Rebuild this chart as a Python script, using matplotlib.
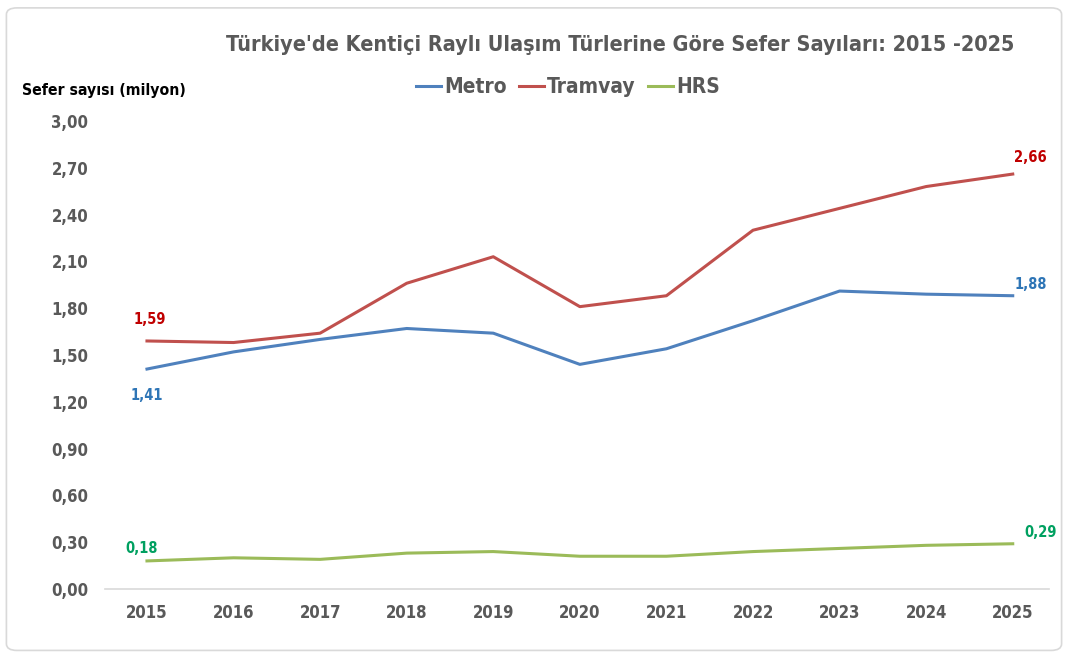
import matplotlib
matplotlib.use("Agg")
import matplotlib.pyplot as plt
from matplotlib.patches import FancyBboxPatch
from matplotlib import font_manager as fm

years = [2015, 2016, 2017, 2018, 2019, 2020, 2021, 2022, 2023, 2024, 2025]
metro = [1.41, 1.52, 1.60, 1.67, 1.64, 1.44, 1.54, 1.72, 1.91, 1.89, 1.88]
tramvay = [1.59, 1.58, 1.64, 1.96, 2.13, 1.81, 1.88, 2.30, 2.44, 2.58, 2.66]
hrs = [0.18, 0.20, 0.19, 0.23, 0.24, 0.21, 0.21, 0.24, 0.26, 0.28, 0.29]
yticks = [0.0, 0.3, 0.6, 0.9, 1.2, 1.5, 1.8, 2.1, 2.4, 2.7, 3.0]

names = {f.name for f in fm.fontManager.ttflist}
FONT = "Liberation Sans Narrow" if "Liberation Sans Narrow" in names else "DejaVu Sans"
STRETCH = "normal" if FONT == "Liberation Sans Narrow" else "condensed"
plt.rcParams["font.family"] = [FONT, "DejaVu Sans"]
plt.rcParams["font.stretch"] = STRETCH

GRAY = "#595959"
C_METRO, C_TRAM, C_HRS = "#4F81BD", "#C0504D", "#9BBB59"

fig = plt.figure(figsize=(10.68, 6.57), dpi=100)
fig.patch.set_facecolor("white")
fig.patches.append(FancyBboxPatch((0.006, 0.01), 0.988, 0.978, boxstyle="round,pad=0,rounding_size=0.01",
                                  transform=fig.transFigure, fill=False, ec="#D9D9D9", lw=1.2))

ax = fig.add_axes([0.0983, 0.1035, 0.884, 0.7123])
l1, = ax.plot(years, metro, color=C_METRO, lw=2.2, label="Metro")
l2, = ax.plot(years, tramvay, color=C_TRAM, lw=2.2, label="Tramvay")
l3, = ax.plot(years, hrs, color=C_HRS, lw=2.2, label="HRS")

ax.set_xlim(2014.515, 2025.42)
ax.set_ylim(0, 3.0)
ax.set_yticks(yticks)
ax.set_yticklabels([f"{v:.2f}".replace(".", ",") for v in yticks])
ax.set_xticks(years)
ax.set_xticklabels([str(y) for y in years])
for s in ["top", "right", "left"]:
    ax.spines[s].set_visible(False)
ax.spines["bottom"].set_color("#D9D9D9")
ax.spines["bottom"].set_linewidth(1.2)
ax.tick_params(length=0, labelsize=12, labelcolor=GRAY)
ax.tick_params(axis="y", pad=12)
ax.tick_params(axis="x", pad=11)
for t in ax.get_xticklabels() + ax.get_yticklabels():
    t.set_fontweight("bold")

def fmt(v):
    return f"{v:.2f}".replace(".", ",")

lab_kw = dict(fontsize=10.5, fontweight="bold", textcoords="offset points")
ax.annotate(fmt(tramvay[0]), (years[0], tramvay[0]), xytext=(2, 12), ha="center", color="#C00000", **lab_kw)
ax.annotate(fmt(metro[0]), (years[0], metro[0]), xytext=(0, -22), ha="center", color="#2E75B6", **lab_kw)
ax.annotate(fmt(hrs[0]), (years[0], hrs[0]), xytext=(-4, 6), ha="center", color="#00A060", **lab_kw)
ax.annotate(fmt(tramvay[-1]), (years[-1], tramvay[-1]), xytext=(13, 9), ha="center", color="#C00000", **lab_kw)
ax.annotate(fmt(metro[-1]), (years[-1], metro[-1]), xytext=(13, 5), ha="center", color="#2E75B6", **lab_kw)
ax.annotate(fmt(hrs[-1]), (years[-1], hrs[-1]), xytext=(20, 5), ha="center", color="#00A060", **lab_kw)

fig.text(0.581, 0.932, "Türkiye'de Kentiçi Raylı Ulaşım Türlerine Göre Sefer Sayıları: 2015 -2025",
         ha="center", va="center", fontsize=15.5, fontweight="bold", color=GRAY)
fig.text(0.021, 0.863, "Sefer sayısı (milyon)", ha="left", va="center", fontsize=11.3,
         fontweight="bold", color="black")

leg = fig.legend(handles=[l1, l2, l3], loc="center", bbox_to_anchor=(0.532, 0.867), ncol=3,
                 frameon=False, fontsize=15, handlelength=1.2, handletextpad=0.15, columnspacing=0.6)
for t in leg.get_texts():
    t.set_color(GRAY)
    t.set_fontweight("bold")

fig.savefig("out.png", dpi=100, facecolor="white")
